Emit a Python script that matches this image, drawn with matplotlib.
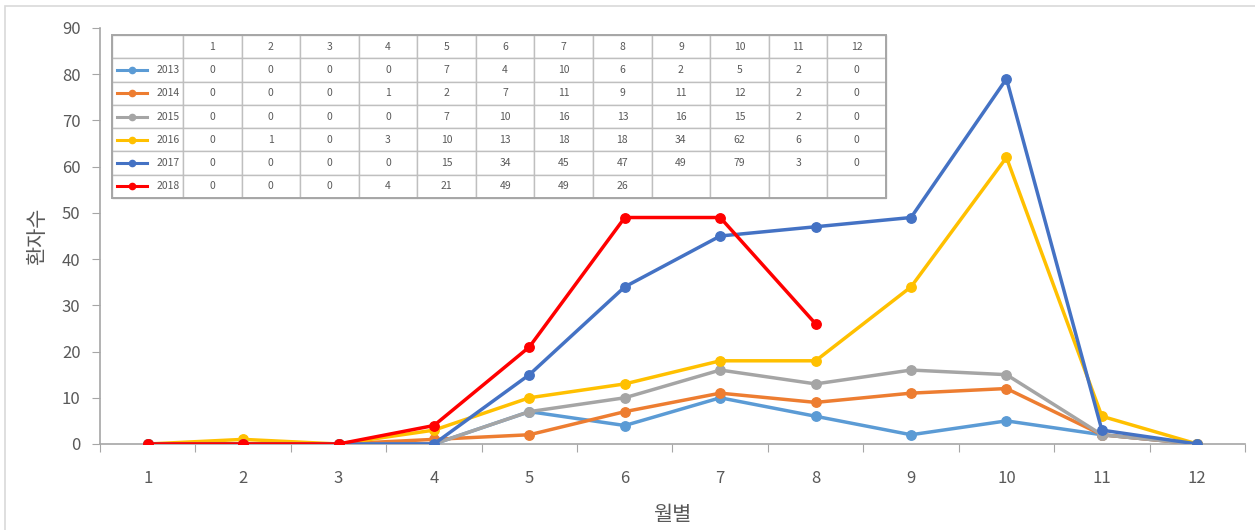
import matplotlib.pyplot as plt
from matplotlib.patches import Rectangle

plt.rcParams['font.family'] = ['Noto Sans CJK KR', 'DejaVu Sans']

# 월별 환자수 (연도별)
months = list(range(1, 13))
years = ['2013', '2014', '2015', '2016', '2017', '2018']
cases_2013 = [0, 0, 0, 0, 7, 4, 10, 6, 2, 5, 2, 0]
cases_2014 = [0, 0, 0, 1, 2, 7, 11, 9, 11, 12, 2, 0]
cases_2015 = [0, 0, 0, 0, 7, 10, 16, 13, 16, 15, 2, 0]
cases_2016 = [0, 1, 0, 3, 10, 13, 18, 18, 34, 62, 6, 0]
cases_2017 = [0, 0, 0, 0, 15, 34, 45, 47, 49, 79, 3, 0]
cases_2018 = [0, 0, 0, 4, 21, 49, 49, 26]
series = [cases_2013, cases_2014, cases_2015, cases_2016, cases_2017, cases_2018]
colors = ['#5B9BD5', '#ED7D31', '#A5A5A5', '#FFC000', '#4472C4', '#FF0000']

txt = '#595959'
fig = plt.figure(figsize=(12.55, 5.3), dpi=100)
ax = fig.add_axes([100 / 1255, 86 / 530, 1145 / 1255, 416 / 530])

for vals, c in zip(series, colors):
    ax.plot(months[:len(vals)], vals, color=c, lw=2.5, marker='o', ms=6.8,
            solid_capstyle='round', zorder=3)

ax.set_xlim(0.5, 12.5)
ax.set_ylim(0, 90)
ax.set_yticks(range(0, 91, 10))
# 범주 경계에 눈금, 월 번호는 범주 가운데에
ax.set_xticks([m - 0.5 for m in months] + [12.5])
ax.set_xticklabels([])
ax.set_xticks(months, minor=True)
ax.set_xticklabels([str(m) for m in months], minor=True)
ax.tick_params(axis='x', which='major', length=6, color='#a6a6a6', direction='out')
ax.tick_params(axis='x', which='minor', length=0, pad=19, labelsize=12, labelcolor=txt)
ax.tick_params(axis='y', length=6, color='#a6a6a6', labelsize=12, labelcolor=txt, pad=8)
for s in ['top', 'right']:
    ax.spines[s].set_visible(False)
for s in ['left', 'bottom']:
    ax.spines[s].set_color('#a6a6a6')
    ax.spines[s].set_linewidth(1.2)

ax.set_ylabel('환자수', fontsize=15, color=txt, labelpad=10)
ax.set_xlabel('월별', fontsize=15, color=txt, labelpad=12)

# 데이터 표
cell_text = [[''] + [str(m) for m in months]]
for y, vals in zip(years, series):
    cell_text.append([y] + [str(v) for v in vals] + [''] * (12 - len(vals)))
x0, w = 12 / 1145, 774 / 1145
y0, h = 246 / 416, 163 / 416
first_w = 71 / 774
col_w = [first_w * w] + [(1 - first_w) * w / 12] * 12
tbl = ax.table(cellText=cell_text, colWidths=col_w, cellLoc='center',
               bbox=[x0, y0, w, h], zorder=4)
tbl.auto_set_font_size(False)
tbl.set_fontsize(7.5)
for (r, c), cell in tbl.get_celld().items():
    cell.set_edgecolor('#bfbfbf')
    cell.set_linewidth(1.0)
    cell.get_text().set_color(txt)
    if c == 0 and r > 0:
        cell.get_text().set_ha('right')
        cell._loc = 'right'
        cell.PAD = 0.04
ax.add_patch(Rectangle((x0, y0), w, h, transform=ax.transAxes, fill=False,
                       edgecolor='#a6a6a6', lw=1.4, zorder=5))

# 범례 표시선
nrows = len(years) + 1
for i, c in enumerate(colors):
    yc = y0 + h * (1 - (i + 1.5) / nrows)
    ax.plot([x0 + 5 / 1145, x0 + 35 / 1145], [yc, yc], color=c, lw=2.2,
            transform=ax.transAxes, zorder=6, clip_on=False)
    ax.plot([x0 + 20 / 1145], [yc], color=c, marker='o', ms=4.5,
            transform=ax.transAxes, zorder=6, clip_on=False)

fig.patches.append(Rectangle((5 / 1255, -0.1), 1.2, 1.1 - 6 / 530,
                             transform=fig.transFigure, fill=False,
                             edgecolor='#d9d9d9', lw=1.2))

fig.savefig('out.png', dpi=100)
